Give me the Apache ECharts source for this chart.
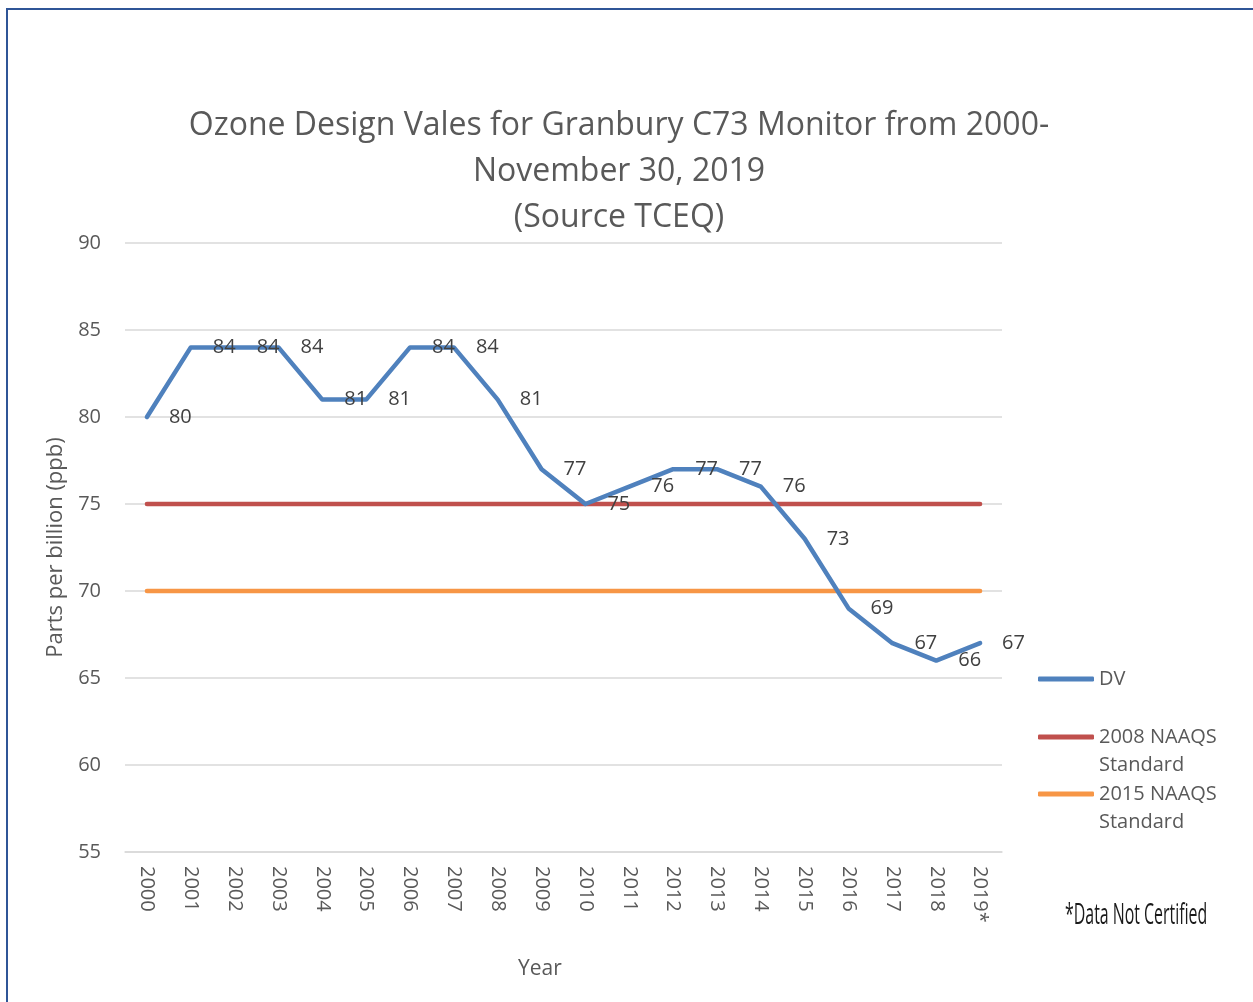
<!DOCTYPE html>
<html lang="en">
<head>
    <meta charset="UTF-8">
    <title>Ozone Design Values</title>
    <script src="https://cdn.jsdelivr.net/npm/echarts@6/dist/echarts.min.js"></script>
    <style>
        html, body { margin: 0; padding: 0; background: #fff; }
    </style>
</head>
<body>
<div id="main" style="width: 1253px;height:1002px;"></div>

<script type="text/javascript">
    // data
    var years = ['2000', '2001', '2002', '2003', '2004', '2005', '2006', '2007', '2008', '2009',
                 '2010', '2011', '2012', '2013', '2014', '2015', '2016', '2017', '2018', '2019*'];
    var dv = [80, 84, 84, 84, 81, 81, 84, 84, 81, 77, 75, 76, 77, 77, 76, 73, 69, 67, 66, 67];
    var naaqs2008 = [75, 75, 75, 75, 75, 75, 75, 75, 75, 75, 75, 75, 75, 75, 75, 75, 75, 75, 75, 75];
    var naaqs2015 = [70, 70, 70, 70, 70, 70, 70, 70, 70, 70, 70, 70, 70, 70, 70, 70, 70, 70, 70, 70];
    var yTicks = [55, 60, 65, 70, 75, 80, 85, 90];

    var font = 'Open Sans';
    var grey = '#595959';

    var myChart = echarts.init(document.getElementById('main'));

    // legend block shared by the three entries
    function legendItem(name, top, text) {
        return {
            data: [name],
            orient: 'vertical',
            left: 1038,
            top: top,
            padding: 0,
            icon: 'roundRect',
            itemWidth: 56,
            itemHeight: 5,
            itemGap: 4,
            formatter: function () { return text; },
            textStyle: { fontFamily: font, fontSize: 20, color: grey, lineHeight: 28 }
        };
    }

    var option = {
        animation: false,
        backgroundColor: '#fff',
        title: {
            text: 'Ozone Design Vales for Granbury C73 Monitor from 2000-\nNovember 30, 2019\n(Source TCEQ)',
            left: 614,
            top: 98,
            textAlign: 'center',
            textStyle: {
                fontFamily: font,
                fontWeight: 'normal',
                fontSize: 32,
                lineHeight: 46,
                color: grey
            }
        },
        grid: {
            left: 125,
            top: 243,
            width: 877,
            height: 609
        },
        legend: [
            legendItem('DV', 665, 'DV'),
            // empty first line keeps the icon level with the first text line
            legendItem('2008 NAAQS Standard', 695, '\n2008 NAAQS\nStandard'),
            legendItem('2015 NAAQS Standard', 752, '\n2015 NAAQS\nStandard')
        ],
        xAxis: {
            type: 'category',
            data: years,
            boundaryGap: true,
            axisLine: { show: true, lineStyle: { color: '#D9D9D9', width: 1.5 } },
            axisTick: { show: false },
            axisLabel: {
                rotate: -90,
                interval: 0,
                margin: 14,
                fontFamily: font,
                fontSize: 20,
                color: grey
            }
        },
        yAxis: {
            type: 'value',
            min: yTicks[0],
            max: yTicks[yTicks.length - 1],
            interval: 5,
            name: 'Parts per billion (ppb)',
            nameLocation: 'middle',
            nameRotate: 90,
            nameGap: 57,
            nameTextStyle: { fontFamily: font, fontSize: 22, color: grey },
            axisLine: { show: false },
            axisTick: { show: false },
            axisLabel: { margin: 24, fontFamily: font, fontSize: 20, color: grey },
            splitLine: { lineStyle: { color: '#D9D9D9', width: 1.5 } }
        },
        series: [{
            name: 'DV',
            type: 'line',
            data: dv,
            showSymbol: true,
            symbol: 'circle',
            symbolSize: 0,
            color: '#4F81BD',
            lineStyle: { width: 4.5, color: '#4F81BD', cap: 'round', join: 'round' },
            label: {
                show: true,
                position: 'right',
                distance: 22,
                fontFamily: font,
                fontSize: 20,
                color: '#404040'
            },
            z: 3
        }, {
            name: '2008 NAAQS Standard',
            type: 'line',
            data: naaqs2008,
            showSymbol: false,
            symbol: 'none',
            color: '#C0504D',
            lineStyle: { width: 4.5, color: '#C0504D', cap: 'round' },
            z: 2
        }, {
            name: '2015 NAAQS Standard',
            type: 'line',
            data: naaqs2015,
            showSymbol: false,
            symbol: 'none',
            color: '#F79646',
            lineStyle: { width: 4.5, color: '#F79646', cap: 'round' },
            z: 2
        }],
        graphic: [{
            type: 'rect',
            shape: { x: 7, y: 9, width: 1400, height: 1200 },
            style: { fill: 'none', stroke: '#2F5597', lineWidth: 2 },
            silent: true
        }, {
            type: 'text',
            left: 518,
            top: 959,
            style: { text: 'Year', font: '21px "Open Sans"', fill: grey }
        }, {
            type: 'text',
            x: 1065,
            y: 900,
            scaleX: 0.53,
            style: {
                text: '*Data Not Certified',
                font: '30px "Open Sans"',
                fill: '#1a1a1a'
            }
        }]
    };

    myChart.setOption(option);
</script>
</body>
</html>
